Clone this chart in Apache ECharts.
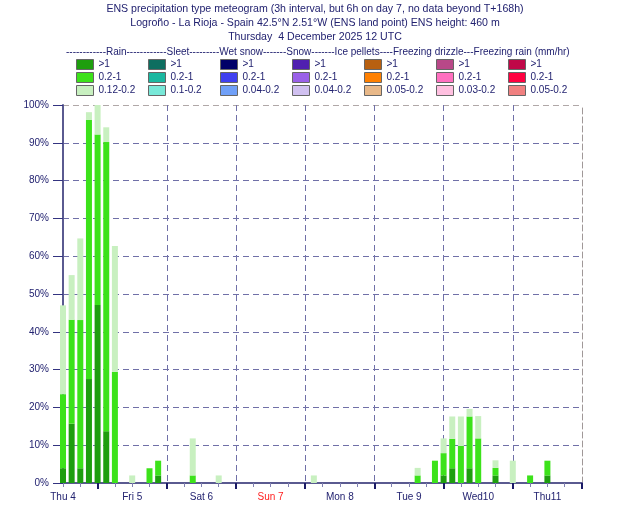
<!DOCTYPE html>
<html>
<head>
<meta charset="utf-8">
<style>
	html, body { margin: 0; padding: 0; background: #fff; }
	#main { width: 630px; height: 525px; }
</style>
<script src="https://cdn.jsdelivr.net/npm/echarts@6/dist/echarts.min.js"></script>
</head>
<body>
<div id="main"></div>
<script>
// hours after Thu 4 12 UTC, every 3h (6h on day 7), axis runs to T+180h
var hours = [0, 3, 6, 9, 12, 15, 18, 24, 30, 33, 45, 54, 87, 123, 129, 132, 135, 138, 141, 144, 150, 156, 162, 168];
// rain probability (%) per intensity class, stacked
var rainHeavy    = [3.9, 15.7, 3.9, 27.5, 47.1, 13.7, 0, 0, 0, 2.0, 0, 0, 0, 0, 0, 2.0, 3.9, 0, 3.9, 0, 2.0, 0, 0, 2.0];
var rainModerate = [19.6, 27.5, 39.2, 68.6, 45.1, 76.5, 29.4, 0, 3.9, 3.9, 2.0, 0, 0, 2.0, 5.9, 5.9, 7.8, 9.8, 13.7, 11.8, 2.0, 0, 2.0, 3.9];
var rainLight    = [23.5, 11.8, 21.6, 2.0, 7.8, 3.9, 33.3, 2.0, 0, 0, 9.8, 2.0, 2.0, 2.0, 0, 3.9, 5.9, 7.8, 2.0, 5.9, 2.0, 5.9, 0, 0];

var dayLabels = ['Thu 4', 'Fri 5', 'Sat 6', 'Sun 7', 'Mon 8', 'Tue 9', 'Wed10', 'Thu11'];
var titleLines = [
	'ENS precipitation type meteogram (3h interval, but 6h on day 7, no data beyond T+168h)',
	'Logroño - La Rioja - Spain 42.5°N 2.51°W (ENS land point) ENS height: 460 m',
	'Thursday  4 December 2025 12 UTC'
];
var types = ['Rain', 'Sleet', 'Wet snow', 'Snow', 'Ice pellets', 'Freezing drizzle', 'Freezing rain'];
var classes = [
	['>1', '0.2-1', '0.12-0.2'],
	['>1', '0.2-1', '0.1-0.2'],
	['>1', '0.2-1', '0.04-0.2'],
	['>1', '0.2-1', '0.04-0.2'],
	['>1', '0.2-1', '0.05-0.2'],
	['>1', '0.2-1', '0.03-0.2'],
	['>1', '0.2-1', '0.05-0.2']
];
var colors = [
	['#1e9e0e', '#3ce21a', '#c8f0c0'],
	['#0e6e60', '#1ab8a0', '#78e8d8'],
	['#000068', '#4040f0', '#70a0f8'],
	['#5020b0', '#9a60e8', '#d0c0f0'],
	['#b86010', '#ff8000', '#e8b888'],
	['#b84888', '#ff70c0', '#ffc0e0'],
	['#c00848', '#ff0040', '#f08080']
];

var navy = '#222270';
var font = 'Liberation Sans';
var cats = [];
for (var t = 0; t <= 180; t += 3) cats.push(String(t));

function fullSeries(vals) {
	var arr = cats.map(function () { return null; });
	hours.forEach(function (h, i) { arr[h / 3] = vals[i]; });
	return arr;
}
var rainData = [fullSeries(rainHeavy), fullSeries(rainModerate), fullSeries(rainLight)];

var series = [];
var legends = [];
types.forEach(function (type, ti) {
	var names = [];
	classes[ti].forEach(function (c, ci) {
		var name = type + ': ' + c;
		names.push(name);
		series.push({
			name: name,
			type: 'bar',
			stack: 'p',
			barWidth: 6,
			clip: true,
			itemStyle: { color: colors[ti][ci] },
			data: ti === 0 ? rainData[ci] : []
		});
	});
	legends.push({
		data: names,
		orient: 'vertical',
		left: 71 + ti * 72,
		top: 54,
		itemWidth: 17,
		itemHeight: 10,
		itemGap: 2,
		icon: 'rect',
		selectedMode: false,
		itemStyle: { borderColor: '#666', borderWidth: 1 },
		textStyle: { fontSize: 10, lineHeight: 10, color: navy, fontFamily: font },
		formatter: function (n) { return n.split(': ')[1]; }
	});
});

var titles = titleLines.map(function (txt, i) {
	return {
		text: txt,
		left: 'center',
		top: 4 + i * 14,
		padding: 0,
		textStyle: { fontSize: 10.6, fontWeight: 'normal', color: navy, fontFamily: font }
	};
});
titles.push({
	text: '------------Rain------------Sleet---------Wet snow-------Snow-------Ice pellets----Freezing drizzle---Freezing rain (mm/hr)',
	left: 66,
	top: 47,
	padding: 0,
	textStyle: { fontSize: 10, fontWeight: 'normal', color: navy, fontFamily: font }
});

var myChart = echarts.init(document.getElementById('main'));
var option = {
	backgroundColor: '#fff',
	animation: false,
	title: titles,
	legend: legends,
	grid: { left: 63, right: 48, top: 105, bottom: 42 },
	xAxis: [{
		type: 'category',
		data: cats,
		boundaryGap: false,
		axisLine: { lineStyle: { color: '#5a5a90', width: 2 } },
		axisTick: {
			interval: function (i, v) { return Number(v) % 6 === 0; },
			length: 4,
			lineStyle: { color: '#8080b0' }
		},
		axisLabel: {
			interval: function (i, v) { return Number(v) % 24 === 0; },
			formatter: function (v) { return dayLabels[Number(v) / 24]; },
			color: function (v) { return Number(v) === 72 ? '#ff2020' : navy; },
			fontSize: 10,
			margin: 9,
			fontFamily: font
		},
		splitLine: {
			show: true,
			interval: function (i, v) { return Number(v) % 24 === 12 && Number(v) < 180; },
			lineStyle: { color: '#7070a8', type: [6, 4], width: 1 }
		}
	}, {
		type: 'category',
		data: cats,
		boundaryGap: false,
		position: 'bottom',
		offset: 0,
		axisLine: { show: false },
		axisLabel: { show: false },
		axisTick: {
			interval: function (i, v) { return Number(v) % 24 === 12; },
			length: 6,
			lineStyle: { color: '#1a1a66', width: 2 }
		},
		splitLine: { show: false }
	}],
	yAxis: [{
		type: 'value',
		min: 0,
		max: 100,
		interval: 10,
		axisLine: { show: true, lineStyle: { color: '#5a5a90', width: 2 } },
		axisTick: { show: true, length: 10, lineStyle: { color: '#333380', width: 1 } },
		axisLabel: {
			formatter: '{value}%',
			fontSize: 10,
			margin: 14,
			color: navy,
			fontFamily: font
		},
		splitLine: {
			show: true,
			lineStyle: {
				color: ['#7070a8', '#7070a8', '#7070a8', '#7070a8', '#7070a8', '#7070a8',
					'#7070a8', '#7070a8', '#7070a8', '#7070a8', '#b0a8a8'],
				type: [6, 4],
				width: 1
			}
		}
	}, {
		type: 'value',
		position: 'right',
		min: 0,
		max: 100,
		axisLine: { show: true, lineStyle: { color: '#a09898', type: [6, 3], width: 1 } },
		axisTick: { show: false },
		axisLabel: { show: false },
		splitLine: { show: false }
	}],
	series: series
};
myChart.setOption(option);
</script>
</body>
</html>
